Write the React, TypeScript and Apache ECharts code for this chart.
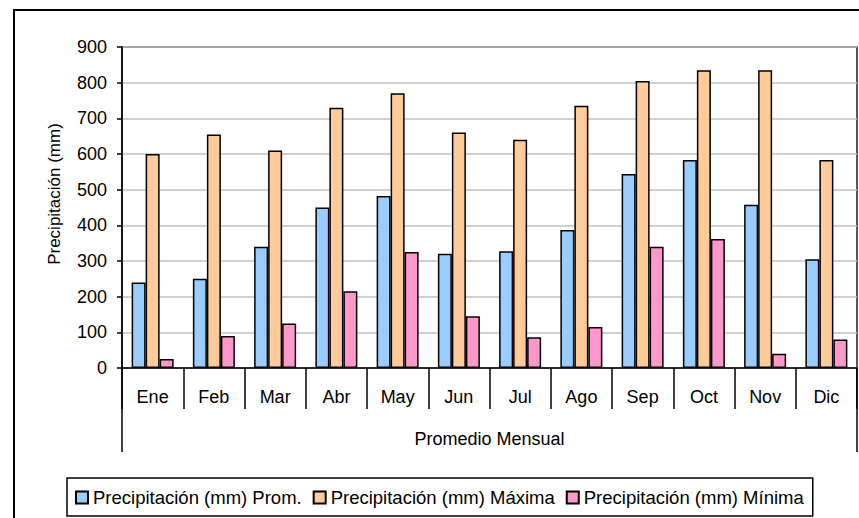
import React, { useEffect, useRef } from "react";
import * as echarts from "echarts";

const months = ["Ene", "Feb", "Mar", "Abr", "May", "Jun", "Jul", "Ago", "Sep", "Oct", "Nov", "Dic"];
const groupLabel = ["Promedio Mensual"];
const seriesNames = [
  "Precipitación (mm) Prom.",
  "Precipitación (mm) Máxima",
  "Precipitación (mm) Mínima",
];
const promValues = [240, 250, 340, 450, 482, 320, 327, 387, 544, 583, 458, 305];
const maxValues = [600, 655, 610, 730, 770, 660, 640, 735, 805, 835, 835, 583];
const minValues = [25, 90, 125, 215, 325, 145, 86, 115, 340, 362, 40, 80];
const yTitle = "Precipitación (mm)";

const FONT = "'Liberation Sans', Arial, sans-serif";

export default function App() {
  const ref = useRef<HTMLDivElement>(null);
  useEffect(() => {
    if (!ref.current) return;
    const chart = echarts.init(ref.current, null, { renderer: "svg" });
    const colors = ["#99CCFF", "#FFCC99", "#FF99CC"];
    const data = [promValues, maxValues, minValues];
    chart.setOption({
      animation: false,
      backgroundColor: "#ffffff",
      textStyle: { fontFamily: FONT },
      grid: {
        left: 122,
        top: 47,
        right: 2,
        bottom: 150,
        show: true,
        borderColor: "#222",
        borderWidth: 1.5,
        containLabel: false,
      },
      legend: {
        left: 67,
        top: 478,
        orient: "horizontal",
        padding: [10, 9, 9, 8],
        itemGap: 11,
        itemWidth: 12,
        itemHeight: 12,
        icon: "rect",
        borderColor: "#000",
        borderWidth: 1.5,
        textStyle: { fontFamily: FONT, fontSize: 18.5, color: "#000" },
        data: seriesNames,
      },
      graphic: [
        {
          type: "rect",
          shape: { x: 14, y: 10, width: 1000, height: 700 },
          style: { fill: "none", stroke: "#000", lineWidth: 2 },
          silent: true,
        },
        {
          type: "text",
          x: 54,
          y: 194,
          rotation: Math.PI / 2,
          style: {
            text: yTitle,
            fontFamily: FONT,
            fontSize: 17,
            fill: "#000",
            align: "center",
            verticalAlign: "middle",
          },
        },
      ],
      xAxis: [
        {
          type: "category",
          data: months,
          position: "bottom",
          axisLine: { show: true, lineStyle: { color: "#000", width: 1.5 } },
          axisTick: {
            show: true,
            alignWithLabel: false,
            inside: false,
            length: 41,
            lineStyle: { color: "#000", width: 1.5 },
          },
          axisLabel: { margin: 20, fontSize: 18, color: "#000", fontFamily: FONT, interval: 0 },
          splitLine: { show: false },
        },
        {
          type: "category",
          data: groupLabel,
          position: "bottom",
          offset: 0,
          axisLine: { show: false },
          axisTick: {
            show: true,
            alignWithLabel: false,
            length: 84,
            lineStyle: { color: "#000", width: 1.5 },
          },
          axisLabel: { margin: 62, fontSize: 18, color: "#000", fontFamily: FONT },
          splitLine: { show: false },
        },
      ],
      yAxis: {
        type: "value",
        min: 0,
        max: 900,
        interval: 100,
        axisLine: { show: true, lineStyle: { color: "#000", width: 1.5 } },
        axisTick: { show: true, inside: false, length: 5, lineStyle: { color: "#000", width: 1.5 } },
        axisLabel: { margin: 15, fontSize: 18, color: "#000", fontFamily: FONT },
        splitLine: { show: true, lineStyle: { color: "#C0C0C0", width: 1.5 } },
      },
      series: seriesNames.map((name, i) => ({
        name,
        type: "bar",
        xAxisIndex: 0,
        data: data[i],
        barWidth: 14,
        barGap: "0%",
        itemStyle: { color: colors[i], borderColor: "#000", borderWidth: 1.5 },
      })),
    });
    return () => chart.dispose();
  }, []);
  return <div ref={ref} style={{ width: 859, height: 518, position: "absolute", left: 0, top: 0 }} />;
}
